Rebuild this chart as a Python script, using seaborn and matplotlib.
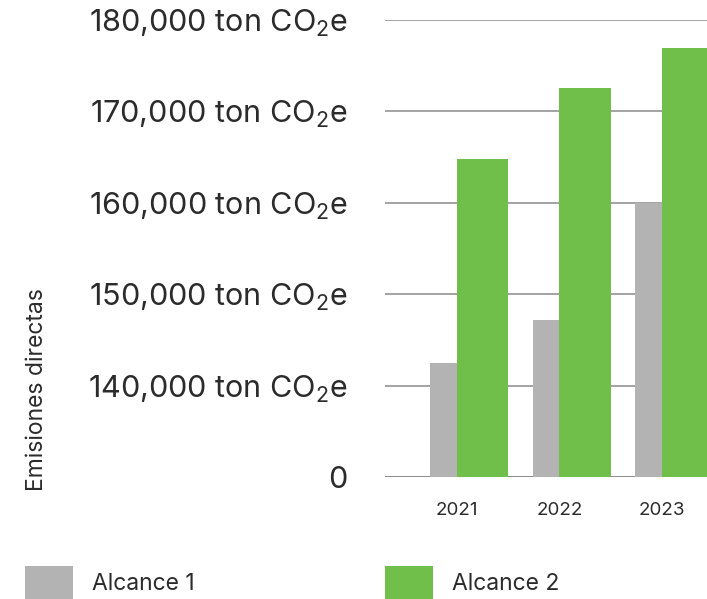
import numpy as np
import pandas as pd
import matplotlib
matplotlib.use("Agg")
import matplotlib.pyplot as plt
import seaborn as sns
from matplotlib.patches import Patch

# -------------------------------
# Data
# -------------------------------
years = [2021, 2022, 2023]
alcance_1 = [142500, 147200, 160000]
alcance_2 = [164800, 172600, 176900]
series_names = ["Alcance 1", "Alcance 2"]

tick_values = [130000, 140000, 150000, 160000, 170000, 180000]
tick_labels = ["0"] + [f"{v:,} ton CO$_2$e" for v in tick_values[1:]]

grey = "#b3b3b3"
green = "#70bf4b"
text_col = "#2b2b2b"

# -------------------------------
# Style
# -------------------------------
sns.set_style("white")
plt.rcParams["font.family"] = ["Inter", "DejaVu Sans"]
plt.rcParams["mathtext.default"] = "regular"

df = pd.DataFrame({"year": years, "a1": alcance_1, "a2": alcance_2})
df["x1"] = df["year"] - 0.01
df["x2"] = df["year"] + 0.25

fig = plt.figure(figsize=(7.07, 5.99), dpi=100)
ax = fig.add_axes([385 / 707, 1 - 477 / 599, 1 - 385 / 707, (477 - 20) / 599])

# gridlines under the bars
for v in tick_values:
    ax.axhline(v, color="#6e6e6e" if v == tick_values[0] else "#8a8a8a",
               lw=1.1, zorder=0)

sns.barplot(data=df, x="x1", y="a1", native_scale=True, width=0.5,
            color=grey, saturation=1, linewidth=0, ax=ax, zorder=2)
sns.barplot(data=df, x="x2", y="a2", native_scale=True, width=0.5,
            color=green, saturation=1, linewidth=0, ax=ax, zorder=3)

ax.set_ylim(tick_values[0], tick_values[-1])
ax.set_xlim(years[0] - 0.70, years[-1] + 0.44)
ax.set_yticks(tick_values)
ax.set_yticklabels(tick_labels, fontsize=22, color=text_col)
ax.set_xticks(years)
ax.set_xticklabels([str(y) for y in years], fontsize=13.5, color=text_col)
ax.tick_params(axis="y", length=0, pad=27)
ax.tick_params(axis="x", length=0, pad=18)
ax.set_xlabel("")
ax.set_ylabel("")
for s in ax.spines.values():
    s.set_visible(False)

fig.text(37 / 707, 1 - 390 / 599, "Emisiones directas", rotation=90,
         ha="center", va="center", fontsize=16.5, color=text_col)

handles = [Patch(facecolor=grey, edgecolor="none"),
           Patch(facecolor=green, edgecolor="none")]
fig.legend(handles, series_names, loc="lower left", ncol=2,
           bbox_to_anchor=(25 / 707, 0.0), frameon=False,
           fontsize=16.5, handlelength=2.1, handleheight=1.85,
           handletextpad=0.83, columnspacing=8.3, borderpad=0,
           borderaxespad=0, labelcolor=text_col)

fig.savefig("out.png", dpi=100)
